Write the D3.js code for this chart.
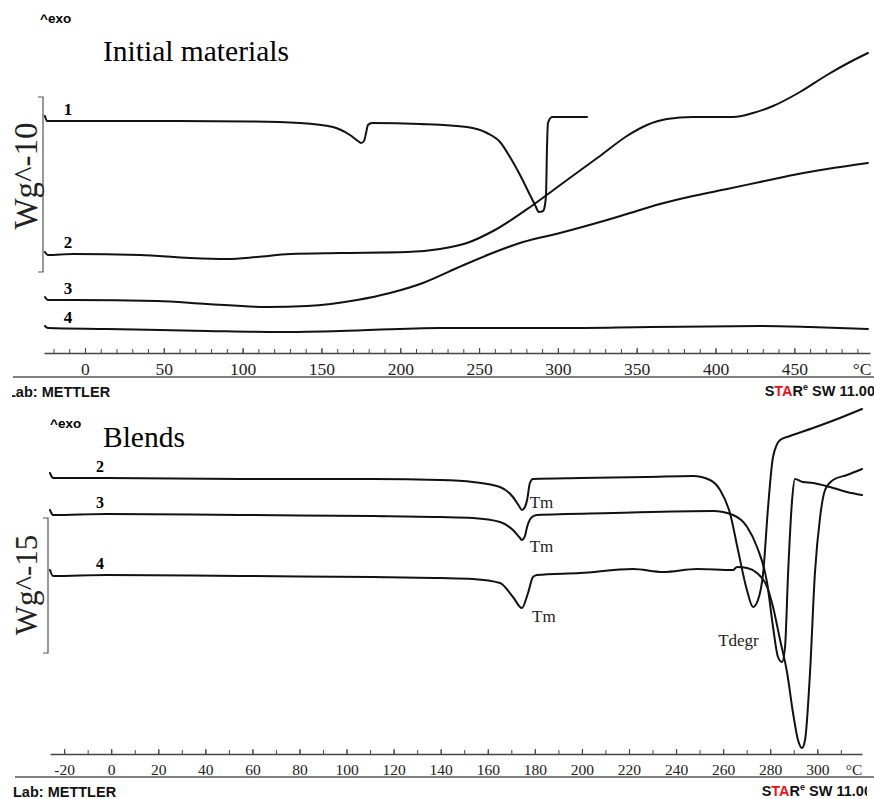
<!DOCTYPE html>
<html><head><meta charset="utf-8">
<script src="https://cdn.jsdelivr.net/npm/d3@7/dist/d3.min.js"></script>
<style>body{margin:0;background:#fff}svg{display:block}</style>
</head><body>
<svg id="c" width="874" height="799"></svg>
<script>
// ---------- DATA (temperature °C, heat flow a.u.) ----------
// Panel A: Initial materials
const initial1 = [[-25.4,244],[-24.1,239],[-15.9,239],[41.2,239],[104.7,238.5],[136.4,237],[157.3,233],[168.1,225],[173.2,219],[175.1,217],[177.0,219],[178.3,227],[179.5,235],[182.1,237],[212.5,236],[242.3,233],[255.0,227],[263.3,218],[269.6,203],[276.0,185],[282.3,165],[285.5,155],[288.0,148],[290.6,149],[291.8,155],[292.5,167],[293.1,213],[293.7,237],[296.3,243],[318.5,243]];
const initial2 = [[-25.4,108],[-23.5,105],[-7.6,106],[34.9,105],[66.6,102],[90.1,101],[109.1,103],[130.1,106],[161.8,107],[204.3,108],[225.2,111],[242.3,117],[260.1,130],[284.2,155],[305.8,180],[326.7,204],[343.8,224],[356.5,235],[369.2,241],[385.7,243],[411.1,243],[423.8,247],[436.5,254],[453.6,268],[470.7,285],[485.3,298],[496.7,307]];
const initial3 = [[-25.4,63],[-23.5,60],[-7.6,60],[45.7,59],[77.4,56],[115.5,53],[140.8,54],[172.6,60],[193.5,67],[214.4,77],[236.0,92],[256.9,106],[277.9,118],[301.3,127],[322.3,136],[343.8,146],[364.8,156],[385.7,164],[407.3,171],[428.2,178],[449.2,185],[470.7,191],[496.7,197]];
const initial4 = [[-25.4,34],[-23.5,32],[14.0,31],[77.4,29],[119.3,28],[161.8,29],[225.2,32],[301.3,32],[358.4,33],[428.2,34],[460.0,33],[496.7,31]];
const initialLabels = ["1","2","3","4"];
const initialTicks = [0,50,100,150,200,250,300,350,400,450];

// Panel B: Blends
const blend2 = [[-26.0,287],[-24.7,282],[-1.8,282],[54.7,281],[111.2,281],[139.7,280],[153.7,278],[165.2,273],[170.7,263],[173.3,254],[174.5,250],[175.8,253],[176.7,260],[177.9,277],[179.2,281],[199.2,282],[227.6,283],[247.2,284],[254.4,280],[258.7,270],[262.9,247],[266.3,210],[270.1,170],[272.7,153],[274.8,160],[277.0,187],[279.1,253],[281.2,303],[284.2,320],[288.4,324],[298.2,332],[309.6,342],[319.0,351]];
const blend3 = [[-26.0,250],[-24.7,245],[-1.8,246],[54.7,245],[111.2,244],[139.7,243],[153.7,242],[165.2,238],[170.7,230],[173.7,222],[174.5,220],[175.8,224],[176.7,233],[178.8,243],[180.9,245],[213.2,247],[255.7,249],[264.2,245],[270.2,233],[274.4,213],[278.7,177],[281.2,133],[283.3,103],[285.0,98],[286.3,113],[287.6,187],[289.3,260],[290.5,281],[293.9,278],[298.2,277],[305.4,273],[312.6,268],[319.0,265]];
const blend4 = [[-26.0,190],[-24.7,184],[-1.8,185],[54.7,184],[111.2,183],[139.7,182],[153.7,181],[165.2,177],[170.7,163],[174.5,152],[177.1,167],[179.2,183],[180.9,185],[199.2,187],[221.7,191],[234.5,188],[248.9,191],[264.2,190],[265.9,193],[270.2,192],[274.4,187],[278.7,173],[281.2,153],[284.2,120],[287.2,87],[289.7,47],[291.8,20],[293.5,12],[294.8,20],[296.9,87],[299.0,187],[301.2,243],[303.3,270],[306.7,280],[312.6,285],[319.0,291]];
const blendLabels = ["2","3","4"];
const blendTicks = [-20,0,20,40,60,80,100,120,140,160,180,200,220,240,260,280,300];

// ---------- DRAWING ----------
const svg = d3.select("#c");
const SERIF = "'Liberation Serif','Times New Roman',serif";
const SANS = "'Liberation Sans',Arial,sans-serif";

function panel(o){
  const g = svg.append("g");
  const x = d3.scaleLinear().domain(o.xDomain).range(o.xRange);
  const y = d3.scaleLinear().domain(o.yDomain).range(o.yRange);
  // minor ticks
  const minor = d3.axisBottom(x).tickValues(d3.range(o.minorStart, o.xDomain[1], 10))
      .tickFormat("").tickSizeInner(-4).tickSizeOuter(0);
  const ga = g.append("g").attr("transform",`translate(0,${o.axisY})`).call(minor);
  ga.select(".domain").attr("stroke","#444").attr("stroke-width",1.3);
  ga.selectAll(".tick line").attr("stroke","#444").attr("stroke-width",1);
  const major = d3.axisBottom(x).tickValues(o.ticks).tickFormat(d=>String(d))
      .tickSizeInner(-5).tickSizeOuter(0).tickPadding(o.pad);
  const gm = g.append("g").attr("transform",`translate(0,${o.axisY})`).call(major);
  gm.select(".domain").remove();
  gm.selectAll(".tick line").attr("stroke","#444").attr("stroke-width",1.1);
  gm.selectAll(".tick text").attr("font-family",SERIF).attr("font-size",o.tickFont).attr("fill","#222");
  g.append("text").attr("x",o.xRange[1]-8).attr("y",o.axisY+o.pad).attr("dy","0.71em")
    .attr("text-anchor","middle").attr("font-family",SERIF).attr("font-size",o.tickFont).attr("fill","#222").text("°C");
  // separator line
  g.append("line").attr("x1",o.sepX).attr("x2",874).attr("y1",o.sepY).attr("y2",o.sepY)
    .attr("stroke","#555").attr("stroke-width",1.5);
  // curves
  const line = d3.line().x(d=>x(d[0])).y(d=>y(d[1])).curve(d3.curveMonotoneX);
  o.series.forEach(s=>{
    g.append("path").attr("d",line(s)).attr("fill","none").attr("stroke","#111")
      .attr("stroke-width",2).attr("stroke-linejoin","round").attr("stroke-linecap","round");
  });
  // curve number labels
  o.series.forEach((s,i)=>{
    g.append("text").attr("x",o.labelX).attr("y",y(s[2][1])-o.labelGap)
      .attr("text-anchor","middle").attr("font-family",SERIF).attr("font-weight","bold")
      .attr("font-size",o.labelFont).text(o.labels[i]);
  });
  // bracket
  const b = o.bracket;
  g.append("path").attr("d",`M${b.x-5},${b.y0}H${b.x}V${b.y1}H${b.x-5}`).attr("fill","none")
    .attr("stroke","#555").attr("stroke-width",1.2);
  // y label
  g.append("text").attr("transform",`translate(${o.yl.x},${o.yl.y}) rotate(-90)`)
    .attr("text-anchor","middle").attr("font-family",SERIF).attr("font-size",o.yl.size).attr("fill","#222")
    .text(o.yl.text);
  // exo + title
  g.append("text").attr("x",o.exo[0]).attr("y",o.exo[1]).attr("font-family",SANS).attr("font-weight","bold")
    .attr("font-size",13.5).text("^exo");
  g.append("text").attr("x",103).attr("y",o.titleY).attr("font-family",SERIF).attr("font-size",29.5).text(o.title);
  // footer
  g.append("text").attr("x",o.labX).attr("y",o.footY).attr("font-family",SANS).attr("font-weight","bold")
    .attr("font-size",14.5).attr("fill","#111").text("Lab: METTLER");
  const st = g.append("text").attr("x",o.starX).attr("y",o.footY-1).attr("text-anchor","end")
    .attr("font-family",SANS).attr("font-weight","bold").attr("font-size",14.5).attr("fill","#111");
  st.append("tspan").text("S");
  st.append("tspan").attr("fill","#e8141b").text("TA");
  st.append("tspan").text("R");
  st.append("tspan").attr("font-size",9).attr("dy",-6).text("e");
  st.append("tspan").attr("dy",6).text(" SW 11.00");
  return {g,x,y};
}

const A = panel({
  xDomain:[-26,498], xRange:[44,870], yDomain:[0,320], yRange:[360,40],
  axisY:353, minorStart:-20, ticks:initialTicks, pad:10, tickFont:17.5,
  sepX:13, sepY:377, series:[initial1,initial2,initial3,initial4], labels:initialLabels,
  labelX:68, labelGap:6, labelFont:17,
  bracket:{x:43,y0:97,y1:272}, yl:{x:37,y:176,size:33,text:"Wg^-10"},
  exo:[40,23], title:"Initial materials", titleY:61,
  labX:7, footY:397, starX:875
});
const B = panel({
  xDomain:[-26,319], xRange:[50,862], yDomain:[0,360], yRange:[760,400],
  axisY:754, minorStart:-20, ticks:blendTicks, pad:9.5, tickFont:15.5,
  sepX:15, sepY:777, series:[blend2,blend3,blend4], labels:blendLabels,
  labelX:100, labelGap:6, labelFont:16,
  bracket:{x:48,y0:518,y1:653}, yl:{x:37,y:585,size:31,text:"Wg^-15"},
  exo:[50,428], title:"Blends", titleY:447,
  labX:13, footY:797, starX:872
});

// annotations (Blends)
const ann = [["Tm",174,508],["Tm",174,552],["Tm",175,622],["Tdegr",271.5,646]];
ann.forEach(a=>{
  svg.append("text").attr("x",B.x(a[1])+ (a[0]==="Tm"?9:-32)).attr("y",a[2])
    .attr("font-family",SERIF).attr("font-size",17).attr("fill","#222").text(a[0]);
});

// crop masks mimicking the original image edges
svg.append("rect").attr("x",0).attr("y",380).attr("width",12).attr("height",20).attr("fill","#fff");
svg.append("rect").attr("x",867).attr("y",780).attr("width",7).attr("height",19).attr("fill","#fff");
</script>
</body></html>
